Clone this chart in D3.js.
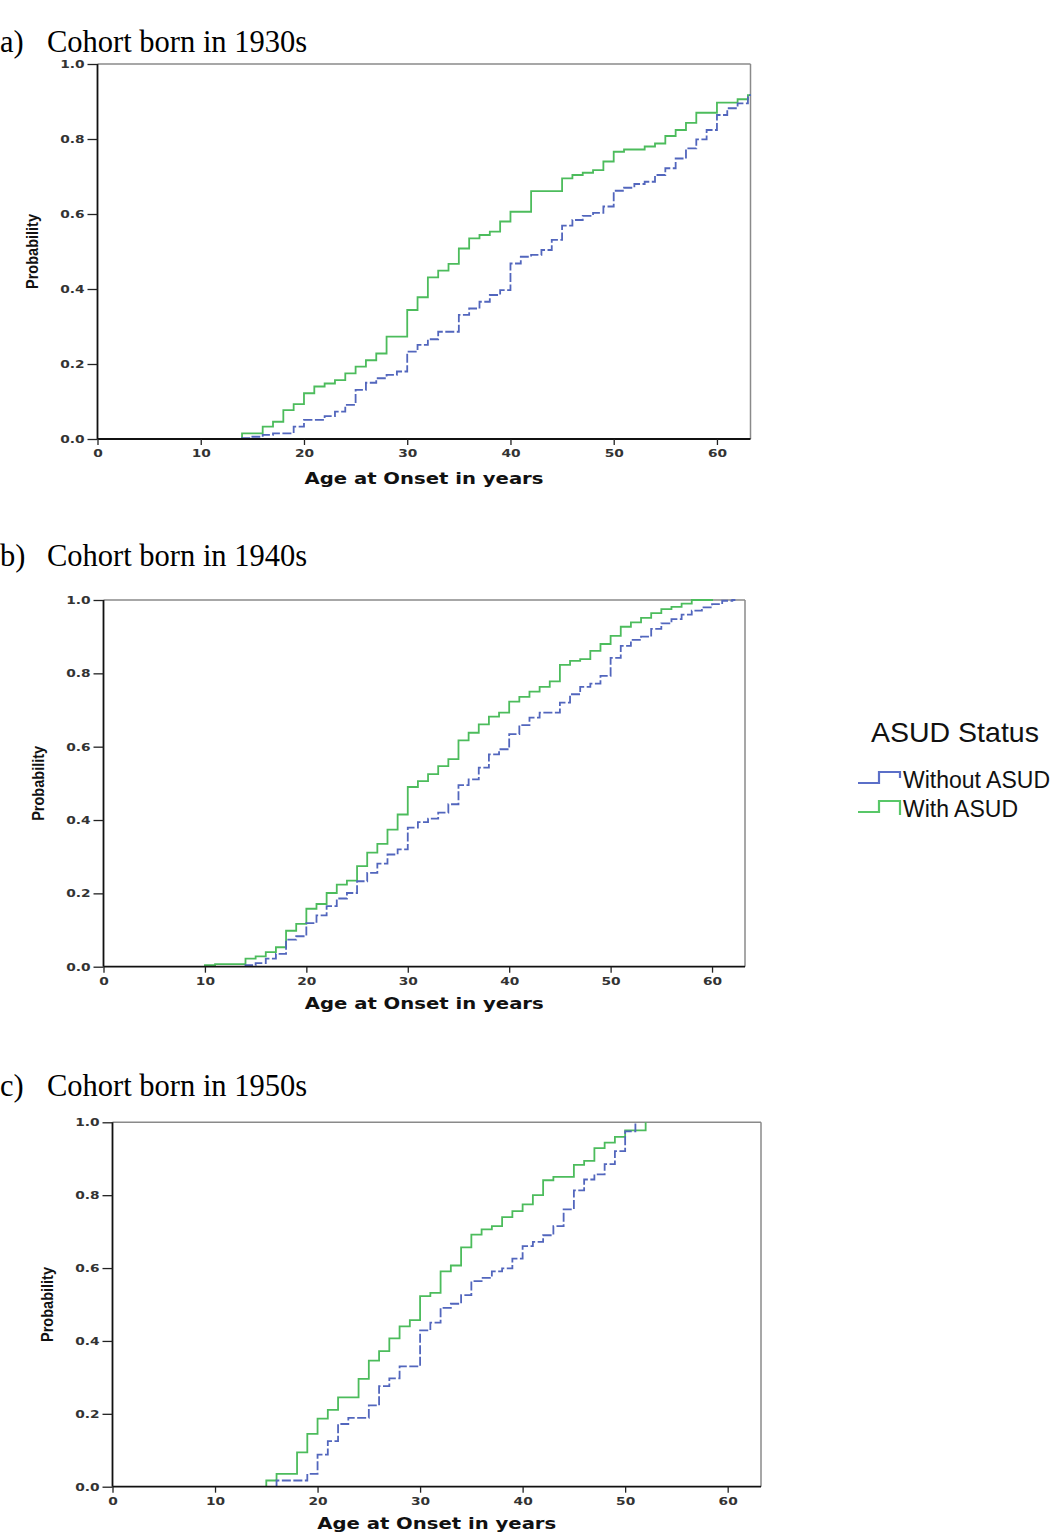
<!DOCTYPE html>
<html>
<head>
<meta charset="utf-8">
<script src="https://cdn.jsdelivr.net/npm/d3@7"></script>
<style>
  html, body { margin: 0; padding: 0; background: #fff; }
  svg { display: block; }
</style>
</head>
<body>
<svg id="chart" width="1051" height="1533"></svg>
<script>
// ---------- DATA ----------
const xTicks = [0, 10, 20, 30, 40, 50, 60];
const yTicks = [0.0, 0.2, 0.4, 0.6, 0.8, 1.0];
const panelLetters = ["a)", "b)", "c)"];
const cohortTitles = ["Cohort born in 1930s", "Cohort born in 1940s", "Cohort born in 1950s"];
const seriesNames = ["Without ASUD", "With ASUD"];
const legendTitle = "ASUD Status";
const xLabel = "Age at Onset in years";
const yLabel = "Probability";

// [age, cumulative probability after the step]
const a_without = [[14,0.002],[15,0.006],[16,0.011],[17,0.015],[19,0.033],[20,0.051],[22,0.061],[23,0.073],[24,0.091],[25,0.131],[26,0.15],[27,0.162],[28,0.171],[29,0.18],[30,0.233],[31,0.251],[32,0.266],[33,0.286],[35,0.331],[36,0.348],[37,0.366],[38,0.384],[39,0.397],[40,0.468],[41,0.486],[42,0.491],[43,0.504],[44,0.531],[45,0.569],[46,0.584],[47,0.595],[48,0.603],[49,0.62],[50,0.662],[51,0.67],[52,0.68],[53,0.686],[54,0.704],[55,0.722],[56,0.748],[57,0.775],[58,0.799],[59,0.824],[60,0.864],[61,0.882],[62,0.895],[63,0.917],[63.3,0.917]];
const a_with = [[14,0.015],[16,0.033],[17,0.046],[18,0.077],[19,0.093],[20,0.122],[21,0.14],[22,0.148],[23,0.157],[24,0.175],[25,0.193],[26,0.21],[27,0.228],[28,0.273],[30,0.344],[31,0.378],[32,0.431],[33,0.449],[34,0.467],[35,0.508],[36,0.535],[37,0.544],[38,0.553],[39,0.58],[40,0.606],[42,0.661],[45,0.695],[46,0.704],[47,0.71],[48,0.717],[49,0.74],[50,0.766],[51,0.772],[53,0.78],[54,0.788],[55,0.808],[56,0.824],[57,0.843],[58,0.87],[60,0.897],[62,0.906],[63,0.917],[63.3,0.917]];

const b_without = [[14,0.004],[15,0.01],[16,0.022],[17,0.035],[18,0.074],[19,0.083],[20,0.119],[21,0.14],[22,0.165],[23,0.186],[24,0.201],[25,0.233],[26,0.256],[27,0.281],[28,0.306],[29,0.32],[30,0.379],[31,0.394],[32,0.404],[33,0.42],[34,0.443],[35,0.495],[36,0.511],[37,0.543],[38,0.579],[39,0.593],[40,0.634],[41,0.659],[42,0.679],[43,0.693],[45,0.72],[46,0.743],[47,0.763],[48,0.772],[49,0.793],[50,0.842],[51,0.875],[52,0.891],[53,0.9],[54,0.921],[55,0.936],[56,0.948],[57,0.96],[58,0.971],[59,0.98],[60,0.989],[61,0.998],[62,1.0],[62.3,1.0]];
const b_with = [[10,0.004],[11,0.007],[14,0.022],[15,0.028],[16,0.04],[17,0.053],[18,0.098],[19,0.117],[20,0.158],[21,0.171],[22,0.201],[23,0.224],[24,0.235],[25,0.274],[26,0.311],[27,0.335],[28,0.374],[29,0.415],[30,0.49],[31,0.506],[32,0.525],[33,0.547],[34,0.566],[35,0.617],[36,0.638],[37,0.661],[38,0.682],[39,0.693],[40,0.723],[41,0.736],[42,0.75],[43,0.763],[44,0.778],[45,0.823],[46,0.834],[47,0.839],[48,0.861],[49,0.88],[50,0.902],[51,0.927],[52,0.939],[53,0.951],[54,0.964],[55,0.975],[56,0.981],[57,0.99],[58,1.0],[60.1,1.0]];

const c_without = [[16,0.017],[19,0.035],[20,0.088],[21,0.125],[22,0.172],[23,0.189],[25,0.223],[26,0.276],[27,0.297],[28,0.33],[30,0.429],[31,0.45],[32,0.491],[33,0.502],[34,0.526],[35,0.564],[36,0.573],[37,0.591],[38,0.599],[39,0.626],[40,0.66],[41,0.672],[42,0.69],[43,0.715],[44,0.761],[45,0.813],[46,0.843],[47,0.857],[48,0.885],[49,0.921],[50,0.975],[51,1.0]];
const c_with = [[15,0.017],[16,0.035],[18,0.094],[19,0.145],[20,0.187],[21,0.211],[22,0.245],[24,0.296],[25,0.346],[26,0.372],[27,0.407],[28,0.44],[29,0.457],[30,0.523],[31,0.532],[32,0.591],[33,0.607],[34,0.657],[35,0.692],[36,0.706],[37,0.715],[38,0.74],[39,0.756],[40,0.775],[41,0.8],[42,0.841],[43,0.85],[45,0.883],[46,0.894],[47,0.929],[48,0.944],[49,0.96],[50,0.978],[52,1.0]];

const panelSeries = [[a_without, a_with], [b_without, b_with], [c_without, c_with]];

// ---------- LAYOUT / STYLE ----------
const xMax = 63.25;
const layout = [
  { left: 97.5,  right: 750.5, top: 64,    bottom: 439,    titleY: 52,   xLabelY: 484 },
  { left: 103.5, right: 745,   top: 600,   bottom: 966.7,  titleY: 566,  xLabelY: 1009 },
  { left: 112.5, right: 761,   top: 1122.3,bottom: 1486.7, titleY: 1096, xLabelY: 1529 }
];
const colors = ["#5266bd", "#4cbc5c"];
const legendColors = ["#5b6fc8", "#58c768"];

const svg = d3.select("#chart");
svg.append("rect").attr("width", 1051).attr("height", 1533).attr("fill", "#fff");

function stretch(sel, factor) {
  sel.each(function () {
    const len = this.getComputedTextLength();
    d3.select(this).attr("textLength", len * factor).attr("lengthAdjust", "spacingAndGlyphs");
  });
}

layout.forEach((L, i) => {
  const x = d3.scaleLinear().domain([0, xMax]).range([L.left, L.right]);
  const y = d3.scaleLinear().domain([0, 1]).range([L.bottom, L.top]);
  const g = svg.append("g");

  // Title
  g.append("text").attr("x", 0).attr("y", L.titleY)
    .attr("font-family", "'Liberation Serif', 'Times New Roman', serif")
    .attr("font-size", 30.5).attr("fill", "#000").text(panelLetters[i]);
  g.append("text").attr("x", 47).attr("y", L.titleY)
    .attr("font-family", "'Liberation Serif', 'Times New Roman', serif")
    .attr("font-size", 30.5).attr("fill", "#000").text(cohortTitles[i]);

  // Frame top / right (gray)
  g.append("line").attr("x1", L.left).attr("x2", L.right).attr("y1", L.top).attr("y2", L.top)
    .attr("stroke", "#8a8a8a").attr("stroke-width", 1.5);
  g.append("line").attr("x1", L.right).attr("x2", L.right).attr("y1", L.top).attr("y2", L.bottom)
    .attr("stroke", "#8a8a8a").attr("stroke-width", 1.5);

  // Series (green first, blue on top)
  const line = d3.line().x(d => x(d[0])).y(d => y(d[1])).curve(d3.curveStepAfter);
  [1, 0].forEach(s => {
    const pts = panelSeries[i][s];
    const full = [[pts[0][0], 0]].concat(pts);
    g.append("path").datum(full)
      .attr("d", line)
      .attr("fill", "none")
      .attr("stroke", colors[s])
      .attr("stroke-width", 1.8)
      .attr("stroke-dasharray", s === 0 ? "9,2.5" : null);
  });

  // Axes
  const xAxis = d3.axisBottom(x).tickValues(xTicks).tickSize(6).tickPadding(4.5)
    .tickFormat(d3.format("d"));
  const gx = g.append("g").attr("transform", `translate(0,${L.bottom})`).call(xAxis);
  const yAxis = d3.axisLeft(y).tickValues(yTicks).tickSize(10).tickPadding(3)
    .tickFormat(d3.format(".1f"));
  const gy = g.append("g").attr("transform", `translate(${L.left},0)`).call(yAxis);

  [gx, gy].forEach(ax => {
    ax.select(".domain").attr("stroke", "#111").attr("stroke-width", 1.8);
    ax.selectAll(".tick line").attr("stroke", "#222").attr("stroke-width", 1.3);
    ax.selectAll(".tick text")
      .attr("font-family", "'DejaVu Sans', Verdana, sans-serif")
      .attr("font-weight", "bold")
      .attr("font-size", 11)
      .attr("fill", "#333");
    stretch(ax.selectAll(".tick text"), 1.25);
  });
  gx.select(".domain").attr("d", `M${L.left},0H${L.right}`);
  gy.select(".domain").attr("d", `M0,${L.bottom}V${L.top}`);

  // Axis titles
  g.append("text")
    .attr("x", (L.left + L.right) / 2).attr("y", L.xLabelY)
    .attr("text-anchor", "middle")
    .attr("font-family", "'DejaVu Sans', Verdana, sans-serif")
    .attr("font-weight", "bold").attr("font-size", 15.5).attr("fill", "#111")
    .attr("textLength", 239).attr("lengthAdjust", "spacingAndGlyphs")
    .text(xLabel);

  const cy = (L.top + L.bottom) / 2;
  g.append("text")
    .attr("transform", `translate(${L.left - 60},${cy}) rotate(-90)`)
    .attr("text-anchor", "middle")
    .attr("font-family", "'Liberation Sans', Arial, sans-serif")
    .attr("font-weight", "bold").attr("font-size", 17).attr("fill", "#111")
    .attr("textLength", 75).attr("lengthAdjust", "spacingAndGlyphs")
    .text(yLabel);
});

// ---------- LEGEND ----------
const lg = svg.append("g").attr("transform", "translate(858,0)");
lg.append("text").attr("x", 13).attr("y", 742)
  .attr("font-family", "'Liberation Sans', Arial, sans-serif")
  .attr("font-size", 28.5).attr("fill", "#111").text(legendTitle);

const legendRows = [788, 817];
seriesNames.forEach((name, s) => {
  const by = legendRows[s];
  const lo = by - 5, hi = by - 16;
  lg.append("path")
    .attr("d", `M0,${lo}H21V${hi}H42V${by - (s === 0 ? 10 : 2)}`)
    .attr("fill", "none").attr("stroke", legendColors[s]).attr("stroke-width", 2.2);
  lg.append("text").attr("x", 45).attr("y", by)
    .attr("font-family", "'Liberation Sans', Arial, sans-serif")
    .attr("font-size", 23).attr("fill", "#111").text(name);
});
</script>
</body>
</html>
